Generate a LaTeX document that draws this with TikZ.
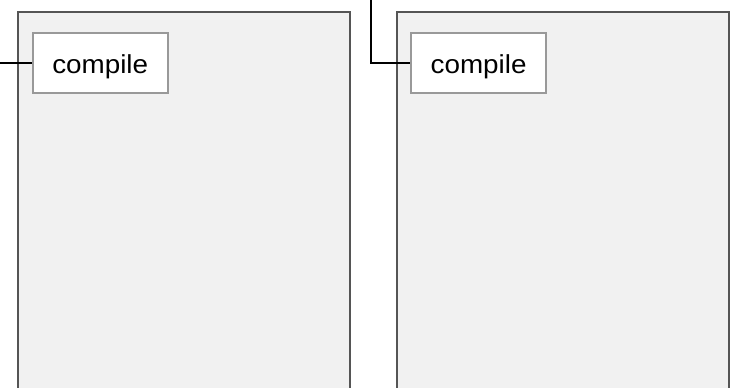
\documentclass[tikz,border=0pt]{standalone}
\usepackage{fontspec}
\setmainfont{Liberation Sans}[FakeStretch=1.07]
\definecolor{panelfill}{HTML}{F1F1F1}
\definecolor{paneldraw}{HTML}{555555}
\definecolor{boxdraw}{HTML}{999999}
\tikzset{
  panel/.style={draw=paneldraw, fill=panelfill, line width=2pt, minimum width=332pt, minimum height=390pt, inner sep=0pt, anchor=north west},
  stepbox/.style={draw=boxdraw, fill=white, line width=2pt, minimum width=135pt, minimum height=60pt, inner sep=0pt, text height=21pt, text depth=0pt, font=\fontsize{26}{30}\selectfont},
  conn/.style={draw=black, line width=1.8pt}
}
\begin{document}
\begin{tikzpicture}[x=1pt,y=-1pt]
\clip (0,0) rectangle (737,388);
\fill[white] (0,0) rectangle (737,388);
\node[panel] (p1) at (16.7,11.3) {};
\node[panel] (p2) at (395.7,11.3) {};
\node[stepbox] (c1) at (100.2,62.8) {compile};
\node[stepbox] (c2) at (478.6,62.8) {compile};
\coordinate (in1) at (0,62.8);
\coordinate (in2) at (371,-2);
\draw[conn] (in1) -- (c1.west);
\draw[conn] (in2) |- (c2.west);
\end{tikzpicture}
\end{document}
